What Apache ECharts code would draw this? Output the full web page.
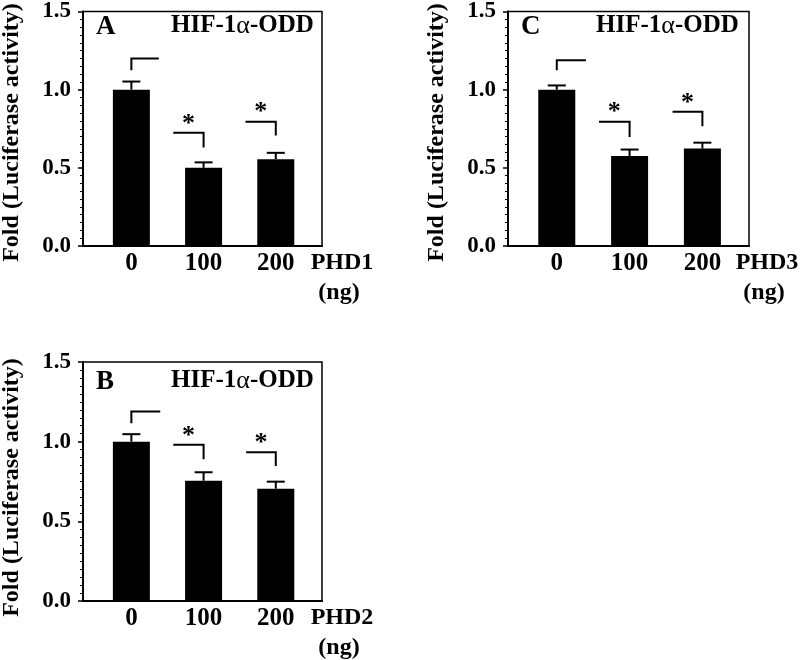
<!DOCTYPE html>
<html><head><meta charset="utf-8">
<script src="https://cdn.jsdelivr.net/npm/echarts@6/dist/echarts.min.js"></script>
<style>html,body{margin:0;padding:0;background:#fff}#c{width:800px;height:660px}</style>
</head><body><div id="c"></div>
<script>
// ---- data ----
const xLabels = ['0', '100', '200'];
const panelNames = ['A', 'B', 'C'];
const enzymes = ['PHD1', 'PHD2', 'PHD3'];
const yTitle = 'Fold (Luciferase activity)';
const valuesA = [1.0, 0.50, 0.555];
const errorsA = [0.052, 0.035, 0.041];
const valuesB = [1.0, 0.755, 0.705];
const errorsB = [0.047, 0.053, 0.044];
const valuesC = [1.0, 0.575, 0.623];
const errorsC = [0.027, 0.042, 0.038];
// brackets: [vertical-leg x, horizontal end x, top y, bottom y, star]
const bracketsA = [[0, 0.38, 1.2, 1.125, 0], [1, 0.58, 0.724, 0.63, 1], [2, 1.58, 0.795, 0.707, 1]];
const bracketsB = [[0, 0.40, 1.19, 1.116, 0], [1, 0.58, 0.98, 0.89, 1], [2, 1.59, 0.934, 0.848, 1]];
const bracketsC = [[0, 0.40, 1.188, 1.125, 0], [1, 0.58, 0.795, 0.697, 1], [2, 1.59, 0.858, 0.766, 1]];

const panels = [
  {name: panelNames[0], enzyme: enzymes[0], values: valuesA, errors: errorsA, brackets: bracketsA, grid: {left: 83, top: 7, width: 239, height: 239}},
  {name: panelNames[1], enzyme: enzymes[1], values: valuesB, errors: errorsB, brackets: bracketsB, grid: {left: 83, top: 362, width: 239, height: 239}},
  {name: panelNames[2], enzyme: enzymes[2], values: valuesC, errors: errorsC, brackets: bracketsC, grid: {left: 508, top: 7, width: 241, height: 239}}
];

const FF = '"Liberation Serif", "Times New Roman", serif';
const chart = echarts.init(document.getElementById('c'), null, {renderer: 'canvas'});

const grids = [], xAxes = [], yAxes = [], series = [], graphics = [];
panels.forEach((p, i) => {
  const g = p.grid;
  grids.push(Object.assign({show: true, borderColor: '#000', borderWidth: 1.5, backgroundColor: 'transparent', containLabel: false}, g));
  xAxes.push({
    gridIndex: i, type: 'value', min: -0.67, max: 2.64,
    axisLine: {show: true, onZero: false, lineStyle: {color: '#000', width: 2}},
    axisTick: {show: false}, splitLine: {show: false},
    axisLabel: {customValues: [0, 1, 2], formatter: v => xLabels[Math.round(v)], color: '#000',
      fontFamily: FF, fontWeight: 'bold', fontSize: 25, margin: 5}
  });
  yAxes.push({
    gridIndex: i, type: 'value', min: 0, max: 1.5, interval: 0.5,
    axisLine: {show: true, onZero: false, lineStyle: {color: '#000', width: 2}},
    axisTick: {show: true, length: 5, lineStyle: {color: '#000', width: 1.5}},
    minorTick: {show: true, splitNumber: 10, length: 3, lineStyle: {color: '#000', width: 1}},
    splitLine: {show: false}, minorSplitLine: {show: false},
    axisLabel: {formatter: v => v.toFixed(1), color: '#000', fontFamily: FF, fontWeight: 'bold', fontSize: 23, margin: 12}
  });
  series.push({
    type: 'bar', xAxisIndex: i, yAxisIndex: i, barWidth: 37,
    itemStyle: {color: '#000'},
    data: p.values.map((v, k) => [k, v]), silent: true, animation: false
  });
  series.push({
    type: 'custom', xAxisIndex: i, yAxisIndex: i, animation: false, silent: true,
    data: p.values.map((v, k) => [k, v, p.errors[k]]),
    renderItem: (params, api) => {
      const x = api.value(0), v = api.value(1), e = api.value(2);
      const top = api.coord([x, v + e]), base = api.coord([x, v]);
      const hw = 9;
      return {type: 'group', children: [
        {type: 'line', shape: {x1: top[0], y1: base[1], x2: top[0], y2: top[1]}, style: {stroke: '#000', lineWidth: 2}},
        {type: 'line', shape: {x1: top[0] - hw, y1: top[1], x2: top[0] + hw, y2: top[1]}, style: {stroke: '#000', lineWidth: 2}}
      ]};
    }
  });
  series.push({
    type: 'custom', xAxisIndex: i, yAxisIndex: i, animation: false, silent: true,
    data: p.brackets,
    renderItem: (params, api) => {
      const xv = api.value(0), xh = api.value(1), yt = api.value(2), yb = api.value(3), star = api.value(4);
      const p1 = api.coord([xv, yt]), p2 = api.coord([xh, yt]), p3 = api.coord([xv, yb]);
      const children = [
        {type: 'polyline', shape: {points: [p2, p1, p3]}, style: {stroke: '#000', lineWidth: 2, fill: null}}
      ];
      if (star) {
        children.push({type: 'text', style: {text: '*', x: (p1[0] + p2[0]) / 2, y: p1[1] - 9,
          align: 'center', verticalAlign: 'middle', fontFamily: FF, fontWeight: 'bold', fontSize: 26, fill: '#000'}});
      }
      return {type: 'group', children};
    }
  });
  // annotations
  graphics.push({type: 'text', x: g.left + 13, y: g.top + 20, style: {text: p.name, verticalAlign: 'middle', fontFamily: FF, fontWeight: 'bold', fontSize: 27, fill: '#000'}});
  graphics.push({type: 'text', x: g.left + 88, y: g.top + 19, style: {
    text: '{b|HIF-1}{a|α}{b|-ODD}', verticalAlign: 'middle', align: 'left',
    rich: {b: {fontFamily: FF, fontWeight: 'bold', fontSize: 25, fill: '#000'}, a: {fontFamily: FF, fontWeight: 'normal', fontSize: 26, fill: '#000'}}}});
  graphics.push({type: 'text', x: g.left + 259, y: g.top + g.height + 17, style: {text: p.enzyme, align: 'center', verticalAlign: 'middle', fontFamily: FF, fontWeight: 'bold', fontSize: 24, fill: '#000'}});
  graphics.push({type: 'text', x: g.left + 256, y: g.top + g.height + 47, style: {text: '(ng)', align: 'center', verticalAlign: 'middle', fontFamily: FF, fontWeight: 'bold', fontSize: 24, fill: '#000'}});
  graphics.push({type: 'text', x: g.left - 71, y: g.top + g.height / 2 + 6, rotation: Math.PI / 2, style: {text: yTitle, align: 'center', verticalAlign: 'middle', fontFamily: FF, fontWeight: 'bold', fontSize: 24, fill: '#000'}});
});

chart.setOption({
  animation: false,
  backgroundColor: '#fff',
  grid: grids, xAxis: xAxes, yAxis: yAxes, series: series, graphic: graphics
});
</script></body></html>
